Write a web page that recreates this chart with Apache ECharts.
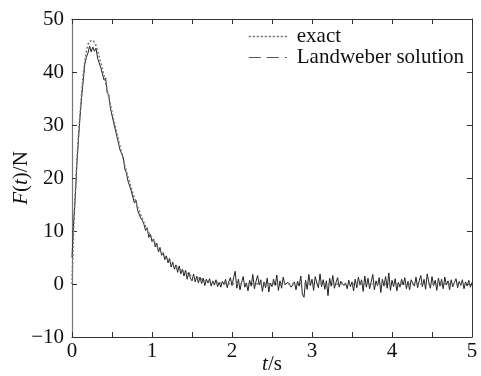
<!DOCTYPE html>
<html>
<head>
<meta charset="utf-8">
<script src="https://cdn.jsdelivr.net/npm/echarts@6/dist/echarts.min.js"></script>
<style>html,body{margin:0;padding:0;background:#fff;}#c{width:481px;height:376px;}</style>
</head>
<body>
<div id="c"></div>
<script>
// sample step (s)
const dt = 0.02;
// exact force, t = 0 .. 2.0 s step 0.02
const exactF = [
0,10,17,23,28,32,36,39.5,42,44,45.2,45.8,46,46,45.6,45,44,43,41.8,40.6,
39.3,38,36.6,35.2,33.8,32.4,31,29.8,28.5,27.2,26,24.8,23.6,22.4,21.3,20.2,19.2,18.2,17.2,16.3,
15.4,14.6,13.8,13,12.3,11.6,10.9,10.3,9.7,9.1,8.6,8.1,7.6,7.1,6.7,6.3,5.9,5.5,5.2,4.9,
4.6,4.3,4.0,3.7,3.5,3.3,3.1,2.9,2.7,2.5,2.3,2.1,2.0,1.8,1.7,1.5,1.4,1.3,1.2,1.1,
1.0,0.9,0.8,0.7,0.65,0.6,0.5,0.45,0.4,0.35,0.3,0.25,0.2,0.18,0.15,0.12,0.1,0.08,0.06,0.04,
0
];
const exactTail = [[5, 0]];
// Landweber solution, t = 0 .. 5 s step 0.02
const landweberF = [
5,11.5,16.2,22.4,27.1,31.5,35.2,38.3,41.5,42.8,43.6,44.9,43.8,44.7,43.9,44.5,42.6,42.9,40.8,40.9,
38.5,38.9,36.1,35.7,33.2,32.9,30.5,30.2,27.9,27.6,25.3,25.1,23.9,21.7,21.0,19.4,19.5,17.6,17.9,15.3,
15.8,13.9,14.2,12.4,12.0,11.2,10.1,10.6,8.8,9.4,8.0,8.5,7.0,7.7,6.1,6.9,5.4,5.9,4.6,5.3,
4.0,4.8,3.2,4.1,2.8,3.6,2.2,3.4,1.9,2.8,1.5,2.6,0.9,2.2,1.1,0.6,1.9,0.4,1.5,0.2,
1.3,0.1,1.1,-0.3,0.9,0.2,1.0,-0.4,0.6,-0.2,0.8,-0.5,0.3,-0.6,0.5,-0.1,0.9,-0.7,0.4,1.2,
-0.3,
1.2,2.4,-0.8,0.9,-1.1,0.3,1.4,-0.6,0.2,-1.3,
0.7,-0.4,1.8,-0.9,0.5,1.6,-0.2,0.8,-1.4,0.4,
-0.7,1.1,-1.5,0.2,-0.5,0.9,-0.3,1.7,-1.2,0.6,
-0.8,1.3,-0.1,0.1,0.3,0.2,-0.6,-0.9,0.4,-1.1,
0.5,-0.4,1.5,-1.9,-2.5,0.7,-1.0,1.8,-0.3,0.9,
-1.2,1.4,0.2,-0.7,1.9,-0.5,0.8,-1.0,0.6,-2.2,
1.1,-0.4,1.6,-0.8,0.3,1.2,-0.6,0.5,0.1,-0.3,
0.2,-0.9,0.7,-0.5,0.4,-1.3,0.9,-0.7,1.3,-0.2,
0.8,-1.4,1.5,-0.6,1.1,-0.9,0.4,1.8,-1.1,0.6,
-0.3,1.2,-1.6,0.9,-0.4,1.4,-0.8,2.1,-1.2,0.7,
-0.5,1.0,-1.3,0.3,-0.6,0.9,-0.2,1.2,-0.9,0.5,
-1.1,0.8,0.1,-0.4,1.3,-0.7,0.6,1.6,-0.5,0.9,
-1.0,1.9,0.4,-0.8,1.4,-0.3,0.7,-1.2,1.1,-0.4,
0.9,-0.9,1.3,-0.2,0.6,-1.1,0.8,-0.5,0.3,1.0,
-0.7,0.5,-0.3,0.8,-0.9,0.4,-0.4,0.7,-0.6,0.3
];
const xTicks = [0, 1, 2, 3, 4, 5];
const yTicks = [-10, 0, 10, 20, 30, 40, 50];

const exactData = exactF.map((v, i) => [+(i * dt).toFixed(2), v]).concat(exactTail);
const lwData = landweberF.map((v, i) => [+(i * dt).toFixed(2), v]);

const FONT = '"Liberation Serif", "Times New Roman", serif';
const FS = 21;
const chart = echarts.init(document.getElementById('c'), null, {renderer: 'canvas'});
const axisCol = '#333';
const common = {
  axisLine: {show: true, onZero: false, lineStyle: {color: axisCol, width: 1}},
  axisTick: {show: true, inside: true, length: 5, lineStyle: {color: axisCol}},
  splitLine: {show: false}
};
chart.setOption({
  animation: false,
  backgroundColor: '#fff',
  grid: {left: 72, right: 9, top: 19, bottom: 39, outerBoundsMode: 'none', containLabel: false},
  legend: {
    orient: 'vertical', left: 243, top: 21,
    itemWidth: 38, itemHeight: 10, itemGap: 0,
    textStyle: {fontFamily: FONT, fontSize: FS, color: '#111', lineHeight: 20, padding: [0, 0, 0, 5]},
    itemStyle: {opacity: 0},
    data: [
      {name: 'exact', itemStyle: {opacity: 0}, lineStyle: {type: [2, 2], color: '#666', width: 1.5}},
      {name: 'Landweber solution', itemStyle: {opacity: 0}, lineStyle: {type: [12, 6], color: '#555', width: 1.2}}
    ]
  },
  xAxis: [
    Object.assign({}, common, {
      type: 'value', min: xTicks[0], max: xTicks[xTicks.length - 1], interval: 0.5,
      axisLabel: {fontFamily: FONT, fontSize: FS, color: '#111', margin: 4,
        formatter: v => xTicks.indexOf(v) >= 0 ? String(v) : ''},
      name: '{i|t}/s', nameLocation: 'middle', nameGap: 17, nameMoveOverlap: false,
      nameTextStyle: {fontFamily: FONT, fontSize: FS, color: '#111',
        rich: {i: {fontFamily: FONT, fontSize: FS, fontStyle: 'italic', color: '#111'}}}
    }),
    Object.assign({}, common, {
      type: 'value', position: 'top', min: 0, max: 5, interval: 0.5,
      axisLabel: {show: false}
    })
  ],
  yAxis: [
    Object.assign({}, common, {
      type: 'value', min: yTicks[0], max: yTicks[yTicks.length - 1], interval: 10,
      axisLine: {show: true, onZero: false, lineStyle: {color: '#777', width: 1.2}},
      axisLabel: {fontFamily: FONT, fontSize: FS, color: '#111', margin: 8,
        formatter: v => String(v).replace('-', '\u2212')},
      name: '{i|F}({i|t})/N', nameLocation: 'middle', nameGap: 40, nameMoveOverlap: false,
      nameTextStyle: {fontFamily: FONT, fontSize: FS, color: '#111',
        rich: {i: {fontFamily: FONT, fontSize: FS, fontStyle: 'italic', color: '#111'}}}
    }),
    Object.assign({}, common, {
      type: 'value', position: 'right', min: -10, max: 50, interval: 10,
      axisLabel: {show: false}
    })
  ],
  series: [
    {
      name: 'Landweber solution', type: 'line', data: lwData, showSymbol: false, symbol: 'none',
      lineStyle: {color: '#222', width: 1}, z: 2
    },
    {
      name: 'exact', type: 'line', data: exactData, showSymbol: false, symbol: 'none',
      lineStyle: {color: '#777', width: 1.5, type: [2, 2]}, z: 3
    }
  ]
});
</script>
</body>
</html>
